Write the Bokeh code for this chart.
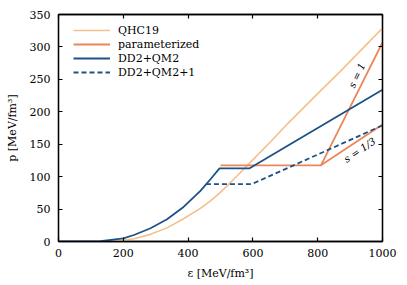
from bokeh.plotting import figure
from bokeh.models import Range1d, LinearAxis, FixedTicker, Legend, LegendItem, Label, CustomLabelingPolicy
from bokeh.embed import file_html
from bokeh.resources import INLINE

# ---- data ----
eps_qhc = [0, 100, 150, 200, 233, 284, 335, 386, 438, 469, 499, 551, 586, 653, 710, 800, 869, 1000]
p_qhc = [0, 0.1, 0.5, 1.9, 4.3, 11, 21, 35, 51, 62.5, 75.4, 101, 119, 153, 183, 228, 262, 329]

eps_param_s1 = [500, 810, 1000]
p_param_s1 = [117.5, 117.5, 307]
eps_param_s13 = [810, 1000]
p_param_s13 = [117.5, 180.5]

eps_dd2 = [0, 100, 130, 200, 233, 284, 335, 386, 438, 469, 497, 590, 715, 1000]
p_dd2 = [0, 0.1, 0.5, 4.9, 10, 20.4, 34.3, 53.3, 78, 96, 112.8, 112.8, 150, 234]

eps_dd2p1 = [455, 596, 715, 1000]
p_dd2p1 = [88.4, 88.4, 115, 179]

x_ticks = [0, 200, 400, 600, 800, 1000]
y_ticks = [0, 50, 100, 150, 200, 250, 300, 350]

series_names = ["QHC19", "parameterized", "DD2+QM2", "DD2+QM2+1"]
label_s1 = ("s = 1", 921, 256, 65)
label_s13 = ("s = 1/3", 930, 141, 34)

C_QHC = "#F5BF8C"
C_PAR = "#EC8658"
C_DD2 = "#1E5286"
FONT = "DejaVu Serif"
FS = "11px"

p = figure(width=407, height=285, output_backend="svg", toolbar_location=None,
           x_range=Range1d(0, 1000), y_range=Range1d(0, 350),
           min_border_left=58, min_border_right=25, min_border_top=14, min_border_bottom=44)
p.grid.visible = False
p.outline_line_color = "black"
p.outline_line_width = 1.3
p.background_fill_color = "white"
p.border_fill_color = "white"

r_qhc = p.line(eps_qhc, p_qhc, color=C_QHC, line_width=1.6)
r_par = p.line(eps_param_s1, p_param_s1, color=C_PAR, line_width=1.8)
p.line(eps_param_s13, p_param_s13, color=C_PAR, line_width=1.8)
r_dd2 = p.line(eps_dd2, p_dd2, color=C_DD2, line_width=1.8)
r_dd2p1 = p.line(eps_dd2p1, p_dd2p1, color=C_DD2, line_width=1.8, line_dash="5 3")

def style_axis(ax, ticks):
    ax.ticker = FixedTicker(ticks=ticks)
    ax.major_tick_in = 4
    ax.major_tick_out = 0
    ax.minor_tick_line_color = None
    ax.axis_line_color = "black"
    ax.axis_line_width = 1.3
    ax.major_tick_line_color = "black"
    ax.major_tick_line_width = 1.2
    ax.major_label_text_font = FONT
    ax.major_label_text_font_size = FS
    ax.major_label_text_color = "black"
    ax.axis_label_text_font = FONT
    ax.axis_label_text_font_size = FS
    ax.axis_label_text_font_style = "normal"
    ax.axis_label_text_color = "black"

style_axis(p.xaxis[0], x_ticks)
style_axis(p.yaxis[0], y_ticks)
p.xaxis[0].axis_label = "ε [MeV/fm³]"
p.yaxis[0].axis_label = "p [MeV/fm³]"
p.xaxis[0].major_label_standoff = 7
p.xaxis[0].axis_label_standoff = 7
p.yaxis[0].major_label_standoff = 8
p.yaxis[0].axis_label_standoff = 8

top = LinearAxis(major_label_policy=CustomLabelingPolicy(code="for (const i of Array.from(indices)) { indices.unset(i) }; return indices"))
style_axis(top, x_ticks)
top.major_label_standoff = 0
p.add_layout(top, "above")
right = LinearAxis(major_label_policy=CustomLabelingPolicy(code="for (const i of Array.from(indices)) { indices.unset(i) }; return indices"))
style_axis(right, y_ticks)
right.major_label_standoff = 0
p.add_layout(right, "right")

legend = Legend(items=[LegendItem(label=series_names[0], renderers=[r_qhc]),
                       LegendItem(label=series_names[1], renderers=[r_par]),
                       LegendItem(label=series_names[2], renderers=[r_dd2]),
                       LegendItem(label=series_names[3], renderers=[r_dd2p1])],
                location=(15, 162))
legend.padding = 0
legend.margin = 0
legend.spacing = 0
legend.glyph_width = 37
legend.glyph_height = 14
legend.label_height = 14
legend.label_standoff = 8
legend.label_text_font = FONT
legend.label_text_font_size = FS
legend.label_text_color = "black"
legend.border_line_color = None
legend.background_fill_alpha = 0
p.add_layout(legend)

for txt, lx, ly, ang in (label_s1, label_s13):
    p.add_layout(Label(x=lx, y=ly, text=txt, angle=ang, angle_units="deg",
                       text_align="center", text_baseline="middle",
                       text_font=FONT, text_font_size="10px", text_font_style="italic",
                       text_color="black"))

open("out.html", "w").write(file_html(p, INLINE))
